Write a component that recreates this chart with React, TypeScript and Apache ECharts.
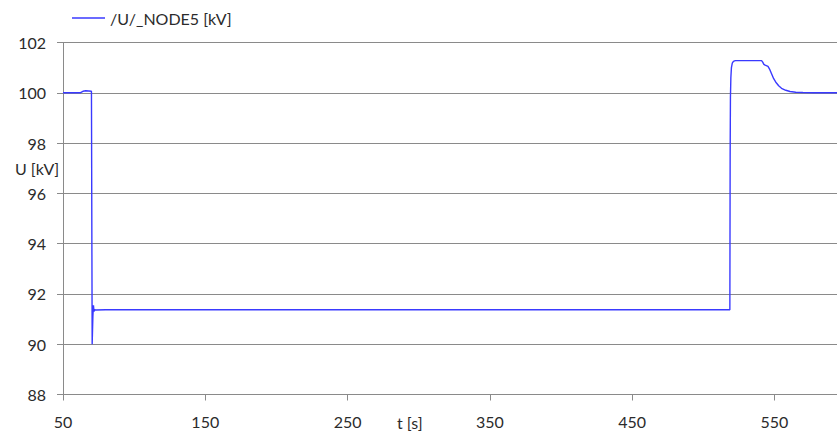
import React, { useEffect, useRef } from "react";
import * as echarts from "echarts";

const seriesName = "/U/_NODE5 [kV]";
const timeS = [
  50, 62, 63, 64, 66, 68, 70, 70.4, 70.5, 71.0, 71.4, 71.8, 72.3, 73, 80,
  518.7, 518.9, 519.1, 519.4, 519.8, 520.4, 521.2, 522.5, 541, 541.8, 542.6,
  543.5, 545.5, 546.8, 548, 549.5, 551, 553, 555, 558, 561, 565, 570, 578, 594,
];
const voltageKV = [
  100, 100, 100.03, 100.06, 100.08, 100.07, 100.06, 100.05, 90.0, 91.1, 91.55,
  91.3, 91.38, 91.36, 91.37,
  91.37, 97.5, 99.8, 100.6, 101.0, 101.18, 101.25, 101.28, 101.28, 101.22,
  101.13, 101.1, 101.05, 100.92, 100.76, 100.56, 100.42, 100.28, 100.18,
  100.1, 100.05, 100.02, 100.01, 100, 100,
];
const xTickValues = [50, 150, 250, 350, 450, 550];
const xMin = 50;
const xMax = 594;
const yMin = 88;
const yMax = 102;
const yStep = 2;

export default function App() {
  const ref = useRef<HTMLDivElement>(null);
  useEffect(() => {
    if (!ref.current) return;
    const chart = echarts.init(ref.current, null, { renderer: "svg" });
    const font = "Lato, 'Open Sans', sans-serif";
    const textColor = "#2b2b2b";
    const gridColor = "#8a8a8a";
    const lineColor = "#3a3aff";
    chart.setOption({
      animation: false,
      backgroundColor: "#ffffff",
      grid: { left: 63, right: 0, top: 42.5, bottom: 39.5, containLabel: false },
      legend: { show: false },
      xAxis: {
        type: "value",
        min: xMin,
        max: xMax,
        axisLine: { show: true, lineStyle: { color: gridColor, width: 1 } },
        axisTick: {
          show: true,
          customValues: xTickValues,
          length: 6,
          lineStyle: { color: gridColor },
        },
        axisLabel: {
          customValues: xTickValues,
          fontFamily: font,
          fontSize: 16,
          color: textColor,
          margin: 19,
          hideOverlap: false,
        },
        splitLine: { show: false },
      },
      yAxis: {
        type: "value",
        min: yMin,
        max: yMax,
        interval: yStep,
        axisLine: { show: true, lineStyle: { color: gridColor, width: 1 } },
        axisTick: { show: true, length: 6, lineStyle: { color: gridColor } },
        axisLabel: {
          fontFamily: font,
          fontSize: 16,
          color: textColor,
          margin: 17,
        },
        splitLine: { show: true, lineStyle: { color: gridColor, width: 1 } },
      },
      graphic: [
        {
          type: "line",
          shape: { x1: 72, y1: 18, x2: 105, y2: 18 },
          style: { stroke: lineColor, lineWidth: 1.4 },
        },
        {
          type: "text",
          x: 110,
          y: 18,
          style: {
            text: seriesName,
            fontFamily: font,
            fontSize: 16,
            fill: textColor,
            verticalAlign: "middle",
          },
        },
        {
          type: "text",
          x: 397,
          y: 422,
          style: {
            text: "t [s]",
            fontFamily: font,
            fontSize: 16,
            fill: textColor,
            verticalAlign: "middle",
          },
        },
        {
          type: "text",
          x: 15,
          y: 168,
          style: {
            text: "U [kV]",
            fontFamily: font,
            fontSize: 16,
            fill: textColor,
            verticalAlign: "middle",
          },
        },
      ],
      series: [
        {
          name: seriesName,
          type: "line",
          symbol: "none",
          smooth: false,
          lineStyle: { color: lineColor, width: 1.4 },
          itemStyle: { color: lineColor },
          data: timeS.map((t, i) => [t, voltageKV[i]]),
        },
      ],
    });
    return () => chart.dispose();
  }, []);
  return (
    <div
      ref={ref}
      style={{ position: "absolute", left: 0, top: 0, width: 837, height: 434 }}
    />
  );
}
